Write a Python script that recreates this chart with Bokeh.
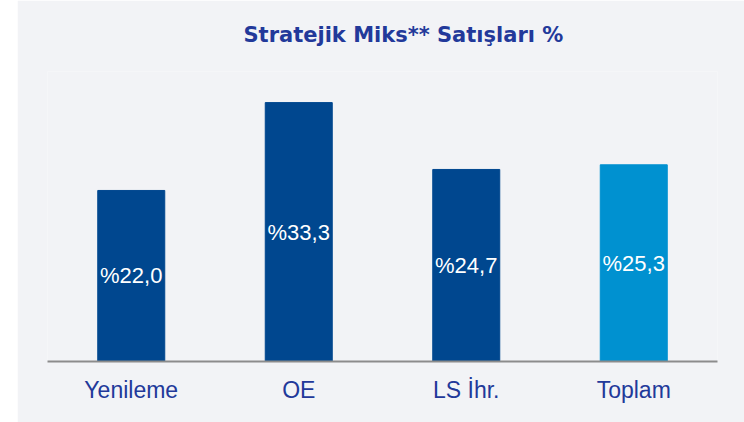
from bokeh.plotting import figure
from bokeh.models import ColumnDataSource, FactorRange, Spacer, Range1d
from bokeh.layouts import row
from bokeh.core.properties import value
from bokeh.embed import file_html
from bokeh.resources import INLINE

categories = ["Yenileme", "OE", "LS İhr.", "Toplam"]
values = [22.0, 33.3, 24.7, 25.3]
bar_colors = ["#00478f", "#00478f", "#00478f", "#0091d0"]
title_text = "Stratejik Miks** Satışları %"

labels = ["%" + f"{v:.1f}".replace(".", ",") for v in values]
mids = [v / 2 for v in values]

bg = "#f2f3f6"
navy = "#22399a"
font = "Liberation Sans"

src = ColumnDataSource(dict(cat=categories, val=values, color=bar_colors,
                            label=labels, mid=mids))

p = figure(x_range=FactorRange(factors=categories, range_padding=0),
           y_range=Range1d(0, 37.3),
           width=727, height=422, output_backend="svg", toolbar_location=None,
           min_border_left=30, min_border_right=27, min_border_top=70,
           min_border_bottom=61)
p.background_fill_color = bg
p.border_fill_color = bg
p.outline_line_color = None
p.grid.grid_line_color = None

p.vbar(x="cat", top="val", width=0.4, color="color", source=src)
p.text(x="cat", y="mid", text="label", source=src, text_align="center",
       text_baseline="middle", text_color="white", text_font=value(font),
       text_font_size="22px")

p.yaxis.visible = False
ax = p.xaxis[0]
ax.axis_line_color = "#8c8c8c"
ax.axis_line_width = 2
ax.major_tick_line_color = None
ax.minor_tick_line_color = None
ax.major_label_text_font = font
ax.major_label_text_font_size = "23px"
ax.major_label_text_color = navy
ax.major_label_standoff = 9

p.title.text = title_text
p.title.align = "left"
p.title.offset = 196
p.title.vertical_align = "top"
p.title.standoff = 45
p.title.text_font = "DejaVu Sans"
p.title.text_font_size = "21px"
p.title.text_font_style = "bold"
p.title.text_color = navy

layout = row(Spacer(width=17, height=422), p)
open("out.html", "w").write(file_html(layout, INLINE))
